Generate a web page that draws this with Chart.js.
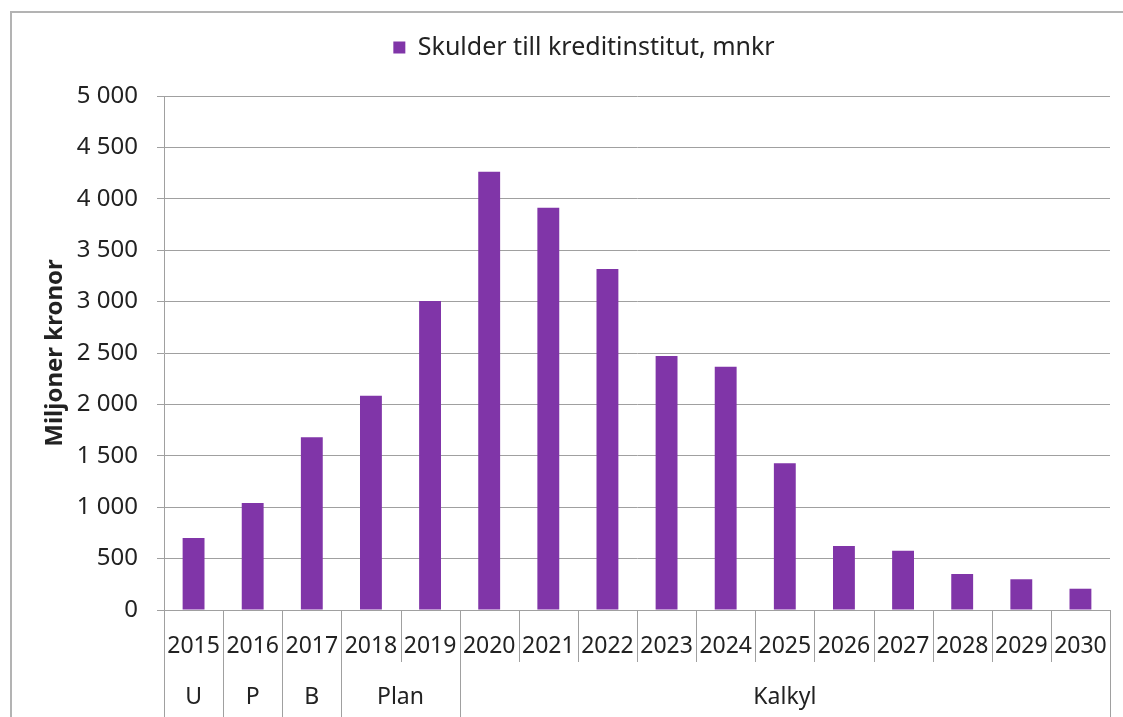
<!DOCTYPE html>
<html lang="sv">
    <head>
        <meta charset="UTF-8">
        <title>Skulder till kreditinstitut</title>
        <script src="https://cdn.jsdelivr.net/npm/chart.js"></script>
        <style>
            html, body { margin: 0; padding: 0; background: #fff; }
            .chart-container { position: relative; width: 1123px; height: 717px; }
        </style>
    </head>
    <body>
        <div class="chart-container">
            <canvas id="chart"></canvas>
        </div>
        <script>
            // data
            const years = ['2015', '2016', '2017', '2018', '2019', '2020', '2021', '2022',
                           '2023', '2024', '2025', '2026', '2027', '2028', '2029', '2030'];
            const skulder = [700, 1040, 1680, 2085, 3006, 4264, 3914, 3317,
                             2471, 2367, 1427, 622, 577, 350, 299, 207];
            const groupLabels = ['U', 'P', 'B', 'Plan', 'Kalkyl'];
            const groupSpans = [1, 1, 1, 2, 11];
            const yTicksMax = 5000;
            const yTicksStep = 500;

            const FONT = "'Noto Sans', 'Open Sans', sans-serif";
            const TEXT = '#222';
            const GRID = '#a0a0a0';
            const PAD_LEFT = 58;

            // outer frame + white background
            const framePlugin = {
                id: 'frame',
                beforeDraw(chart) {
                    const ctx = chart.ctx;
                    ctx.save();
                    ctx.fillStyle = '#fff';
                    ctx.fillRect(0, 0, chart.width, chart.height);
                    ctx.strokeStyle = '#b3b3b3';
                    ctx.lineWidth = 2;
                    ctx.beginPath();
                    ctx.moveTo(11, chart.height);
                    ctx.lineTo(11, 12);
                    ctx.lineTo(chart.width, 12);
                    ctx.stroke();
                    ctx.restore();
                }
            };

            // category separators and the second label row (U, P, B, Plan, Kalkyl)
            const groupAxisPlugin = {
                id: 'groupAxis',
                afterDraw(chart) {
                    const x = chart.scales.x;
                    const ctx = chart.ctx;
                    const half = (x.getPixelForValue(1) - x.getPixelForValue(0)) / 2;
                    const top = x.top;
                    const rowEnd = top + 52;
                    const bottom = chart.height;

                    const groupEdges = [0];
                    groupSpans.forEach(s => groupEdges.push(groupEdges[groupEdges.length - 1] + s));

                    ctx.save();
                    ctx.strokeStyle = GRID;
                    ctx.lineWidth = 1;
                    for (let i = 0; i <= years.length; i++) {
                        const px = Math.round(x.getPixelForValue(i) - half) + 0.5;
                        ctx.beginPath();
                        ctx.moveTo(px, top);
                        ctx.lineTo(px, groupEdges.includes(i) ? bottom : rowEnd);
                        ctx.stroke();
                    }

                    ctx.fillStyle = TEXT;
                    ctx.font = '23px ' + FONT;
                    ctx.textAlign = 'center';
                    ctx.textBaseline = 'middle';
                    groupLabels.forEach((label, g) => {
                        const a = x.getPixelForValue(groupEdges[g]) - half;
                        const b = x.getPixelForValue(groupEdges[g + 1]) - half;
                        ctx.fillText(label, (a + b) / 2, top + 87);
                    });
                    ctx.restore();
                }
            };

            function fmt(v) {
                return String(v).replace(/\B(?=(\d{3})+(?!\d))/g, ' ');
            }

            const ctx = document.getElementById('chart').getContext('2d');
            new Chart(ctx, {
                type: 'bar',
                data: {
                    labels: years,
                    datasets: [{
                        label: 'Skulder till kreditinstitut, mnkr',
                        data: skulder,
                        backgroundColor: '#8035a8',
                        borderWidth: 0,
                        barPercentage: 0.37,
                        categoryPercentage: 1
                    }]
                },
                options: {
                    responsive: true,
                    maintainAspectRatio: false,
                    animation: false,
                    layout: {
                        padding: { top: 25, left: PAD_LEFT, right: 13, bottom: 0 }
                    },
                    plugins: {
                        legend: {
                            position: 'top',
                            labels: {
                                color: TEXT,
                                font: { family: FONT, size: 25 },
                                boxWidth: 12,
                                boxHeight: 12,
                                padding: 10
                            }
                        },
                        // empty spacer between legend and plot
                        subtitle: {
                            display: true,
                            text: ' ',
                            weight: 500,
                            font: { size: 10 },
                            padding: { top: 0, bottom: 14 }
                        },
                        tooltip: { enabled: false }
                    },
                    scales: {
                        x: {
                            grid: { display: false, drawTicks: false },
                            border: { display: true, color: GRID, width: 1 },
                            ticks: {
                                color: TEXT,
                                font: { family: FONT, size: 23 },
                                padding: 23,
                                maxRotation: 0,
                                autoSkip: false
                            },
                            afterFit(scale) {
                                scale.height = 107;
                                scale.paddingLeft = 0;
                                scale.paddingRight = 0;
                            }
                        },
                        y: {
                            min: 0,
                            max: yTicksMax,
                            grid: { color: GRID, lineWidth: 1, tickLength: 7 },
                            border: { display: true, color: GRID, width: 1 },
                            ticks: {
                                stepSize: yTicksStep,
                                color: TEXT,
                                font: { family: FONT, size: 24 },
                                padding: 19,
                                callback: v => fmt(v)
                            },
                            title: {
                                display: true,
                                text: 'Miljoner kronor',
                                color: TEXT,
                                font: { family: FONT, size: 24, weight: 'bold' },
                                padding: { top: -17, bottom: 0 }
                            },
                            afterFit(scale) { scale.width = 164 - PAD_LEFT; }
                        }
                    }
                },
                plugins: [framePlugin, groupAxisPlugin]
            });
        </script>
    </body>
</html>
